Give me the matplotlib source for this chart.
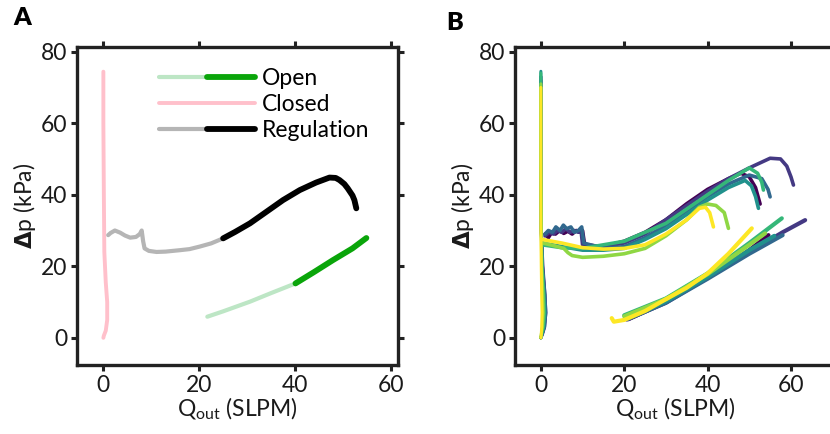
import matplotlib
matplotlib.use("Agg")
import matplotlib.pyplot as plt
from matplotlib.legend_handler import HandlerTuple

plt.rcParams['font.family'] = ['Lato', 'DejaVu Sans']
plt.rcParams['mathtext.fontset'] = 'custom'
plt.rcParams['mathtext.rm'] = 'Lato'
plt.rcParams['mathtext.bf'] = 'DejaVu Sans:bold'
plt.rcParams['mathtext.it'] = 'Lato:italic'

# ---- panel A: one example trial, split by valve phase ----
closed_q = [0.0, 0.0, 0.1, 0.2, 0.5, 0.8, 0.8, 0.5, 0.1, 0.0]
closed_dp = [74.4, 60.0, 40.0, 24.0, 15.5, 10.0, 5.0, 2.0, 0.6, 0.0]

reg_low_q = [1.0, 1.5, 2.4, 3.5, 4.5, 5.6, 6.8, 7.6, 8.0, 8.3, 8.6, 9.5, 11.1, 13.0, 16.0, 18.0, 20.1, 22.5, 25.0]
reg_low_dp = [28.7, 29.3, 30.0, 29.4, 28.6, 28.0, 28.2, 29.0, 30.0, 27.0, 25.0, 24.3, 24.0, 24.1, 24.5, 24.8, 25.5, 26.4, 27.8]
reg_high_q = [25.0, 27.5, 30.6, 34.0, 37.5, 41.0, 44.4, 47.2, 48.5, 49.3, 50.3, 51.0, 52.0, 52.4, 52.8]
reg_high_dp = [27.8, 29.6, 32.0, 35.2, 38.5, 41.3, 43.4, 44.8, 44.7, 44.1, 43.0, 41.8, 39.8, 38.5, 36.2]

open_low_q = [21.7, 25.0, 30.6, 35.0, 40.1]
open_low_dp = [5.9, 7.4, 10.1, 12.5, 15.2]
open_high_q = [40.1, 44.0, 47.9, 52.0, 54.9]
open_high_dp = [15.2, 18.4, 21.7, 25.0, 27.9]

# ---- panel B: repeated trials ----
trial_colors = ['#440154', '#443983', '#31688e', '#21918c', '#35b779', '#8fd744', '#fde725']

b_closed_q = [
    [0.0, 0.0, 0.1, 0.4, 0.9, 1.1, 0.8, 0.3, 0.0],
    [0.0, 0.0, 0.1, 0.5, 1.0, 1.2, 0.9, 0.4, 0.0],
    [0.0, 0.0, 0.1, 0.4, 1.0, 1.2, 0.9, 0.3, 0.0],
    [0.0, 0.0, 0.1, 0.3, 0.8, 1.0, 0.7, 0.3, 0.0],
    [0.0, 0.0, 0.1, 0.3, 0.7, 0.9, 0.6, 0.2, 0.0],
    [0.0, 0.0, 0.1, 0.2, 0.5, 0.6, 0.4, 0.1, 0.0],
    [0.0, 0.0, 0.0, 0.1, 0.2, 0.3, 0.2, 0.1, 0.0],
]
b_closed_dp = [
    [72.0, 50.0, 30.0, 20.0, 12.0, 7.0, 3.0, 1.0, 0.0],
    [73.0, 50.0, 30.0, 20.0, 12.0, 7.0, 3.0, 1.0, 0.0],
    [73.0, 50.0, 30.0, 20.0, 12.0, 7.0, 3.0, 1.0, 0.0],
    [74.5, 50.0, 30.0, 20.0, 12.0, 7.0, 3.0, 1.0, 0.0],
    [74.0, 50.0, 30.0, 20.0, 12.0, 7.0, 3.0, 1.0, 0.0],
    [71.0, 50.0, 30.0, 20.0, 12.0, 7.0, 3.0, 1.0, 0.0],
    [70.0, 50.0, 30.0, 20.0, 12.0, 7.0, 3.0, 1.0, 0.0],
]

b_reg_q = [
    [1.0, 1.8, 2.6, 3.5, 4.5, 5.5, 6.5, 7.5, 8.5, 9.5, 10.0, 10.5, 15.0, 20.0, 25.0, 30.0, 35.0, 40.0, 45.0, 48.0, 50.0, 51.5, 52.6],
    [1.0, 2.0, 3.0, 4.0, 5.0, 6.0, 7.0, 8.0, 9.0, 9.6, 10.0, 15.0, 20.0, 25.0, 30.0, 35.0, 40.0, 45.0, 50.0, 55.0, 57.5, 59.0, 60.0, 60.6],
    [1.0, 1.8, 2.8, 3.6, 4.6, 5.4, 6.2, 7.2, 8.0, 9.0, 9.8, 10.3, 15.0, 20.0, 25.0, 30.0, 35.0, 40.0, 45.0, 50.0, 53.0, 54.5, 55.0],
    [0.3, 5.0, 10.0, 15.0, 20.0, 25.0, 30.0, 35.0, 40.0, 45.0, 49.0, 50.5, 51.5, 52.2],
    [0.3, 5.0, 10.0, 15.0, 20.0, 25.0, 30.0, 35.0, 40.0, 45.0, 50.0, 52.0, 53.0, 53.4],
    [0.5, 3.0, 5.5, 6.5, 7.5, 10.0, 15.0, 20.0, 25.0, 30.0, 35.0, 38.0, 40.0, 42.0, 44.0, 45.0],
    [0.3, 5.0, 10.0, 15.0, 20.0, 25.0, 30.0, 35.0, 38.0, 39.5, 40.5, 41.4],
]
b_reg_dp = [
    [29.0, 28.0, 29.5, 29.0, 30.0, 29.2, 29.8, 29.0, 30.0, 29.5, 30.0, 26.0, 25.5, 27.0, 29.5, 33.0, 37.5, 41.5, 44.5, 46.0, 45.0, 42.0, 37.4],
    [28.5, 29.5, 29.0, 30.0, 29.5, 30.5, 29.5, 30.0, 29.5, 30.5, 26.0, 25.5, 26.5, 29.0, 33.0, 37.0, 41.0, 44.5, 47.5, 50.2, 50.0, 48.0, 45.0, 42.7],
    [29.0, 30.0, 29.5, 31.0, 30.0, 31.5, 30.5, 31.0, 29.5, 30.0, 31.0, 26.5, 25.0, 25.5, 28.0, 31.5, 35.5, 39.5, 43.0, 45.5, 44.5, 41.5, 39.4],
    [26.5, 25.5, 24.5, 24.5, 25.0, 27.5, 30.5, 34.5, 38.5, 42.0, 44.0, 42.5, 39.5, 36.2],
    [26.0, 25.2, 25.0, 26.0, 27.0, 29.5, 32.0, 36.0, 40.0, 44.0, 47.5, 46.0, 43.5, 41.3],
    [26.5, 25.8, 25.0, 23.8, 23.0, 22.5, 22.8, 23.5, 25.0, 28.5, 33.0, 36.5, 37.4, 37.0, 35.0, 30.6],
    [27.5, 26.5, 25.2, 24.8, 25.0, 26.0, 29.0, 33.0, 36.2, 36.5, 35.0, 31.0],
]

b_open_q = [
    [21.0, 30.0, 40.0, 50.0, 54.6],
    [20.6, 30.0, 40.0, 50.0, 58.0, 63.4],
    [21.0, 30.0, 40.0, 50.0, 58.0],
    [21.0, 30.0, 40.0, 50.0, 56.0],
    [20.0, 30.0, 40.0, 50.0, 57.8],
    [20.0, 30.0, 40.0, 50.0, 53.8],
    [17.0, 17.5, 20.0, 25.0, 30.0, 35.0, 40.0, 45.0, 50.6],
]
b_open_dp = [
    [5.2, 10.0, 17.0, 24.5, 28.7],
    [5.1, 9.8, 16.8, 24.0, 29.5, 32.9],
    [5.3, 9.8, 16.5, 23.5, 28.7],
    [5.5, 10.2, 17.0, 24.5, 28.5],
    [6.3, 11.0, 18.0, 26.5, 33.4],
    [6.0, 10.8, 17.8, 26.0, 29.2],
    [5.5, 4.5, 5.0, 7.5, 10.8, 14.0, 18.0, 23.5, 30.6],
]

ax_ticks = [0, 20, 40, 60]
ay_ticks = [0, 20, 40, 60, 80]
FS = 16.5


def style_axis(ax, xlim):
    ax.set_xlim(*xlim)
    ax.set_ylim(-7.6, 81.3)
    ax.set_xticks(ax_ticks)
    ax.set_yticks(ay_ticks)
    for sp in ax.spines.values():
        sp.set_linewidth(2.4)
        sp.set_color('#222222')
    ax.tick_params(direction='out', length=4, width=2.2, color='#222222',
                   labelsize=FS, pad=3, top=True, right=True,
                   labeltop=False, labelright=False, labelcolor='#1a1a1a')
    ax.set_xlabel(r'Q$_{\mathrm{out}}$ (SLPM)', fontsize=FS, labelpad=0, color='#1a1a1a')
    ax.set_ylabel(r'$\mathbf{\Delta}$p (kPa)', fontsize=FS, labelpad=2, color='#1a1a1a')


fig = plt.figure(figsize=(8.3, 4.34), dpi=100)
ax1 = fig.add_axes([0.0928, 0.159, 0.3867, 0.7327])
ax2 = fig.add_axes([0.6205, 0.159, 0.3867, 0.7327])

# panel A
l_closed, = ax1.plot(closed_q, closed_dp, color='#ffc0cb', lw=2.8, solid_capstyle='round')
l_reg_lo, = ax1.plot(reg_low_q, reg_low_dp, color='#b5b5b5', lw=3.0, solid_capstyle='round')
l_reg_hi, = ax1.plot(reg_high_q, reg_high_dp, color='black', lw=4.2, solid_capstyle='round')
l_open_lo, = ax1.plot(open_low_q, open_low_dp, color='#bde6c5', lw=3.0, solid_capstyle='round')
l_open_hi, = ax1.plot(open_high_q, open_high_dp, color='#0aa50a', lw=4.2, solid_capstyle='round')
style_axis(ax1, (-5.5, 61.5))

ax1.legend([(l_open_lo, l_open_hi), l_closed, (l_reg_lo, l_reg_hi)],
           ['Open', 'Closed', 'Regulation'],
           handler_map={tuple: HandlerTuple(ndivide=None, pad=0)},
           loc='upper left', bbox_to_anchor=(0.255, 0.935), frameon=False,
           fontsize=FS, handlelength=4.2, handletextpad=0.3,
           labelspacing=0.22, borderpad=0, borderaxespad=0)

# panel B
for i, c in enumerate(trial_colors):
    ax2.plot(b_closed_q[i], b_closed_dp[i], color=c, lw=2.2, solid_capstyle='round')
    ax2.plot(b_reg_q[i], b_reg_dp[i], color=c, lw=2.6, solid_capstyle='round')
    ax2.plot(b_open_q[i], b_open_dp[i], color=c, lw=3.0, solid_capstyle='round')
style_axis(ax2, (-6.2, 70.8))

fig.text(0.027, 0.958, 'A', fontsize=18, fontweight='heavy', ha='center', va='center')
fig.text(0.548, 0.947, 'B', fontsize=18, fontweight='heavy', ha='center', va='center')

fig.savefig('out.png', dpi=100)
